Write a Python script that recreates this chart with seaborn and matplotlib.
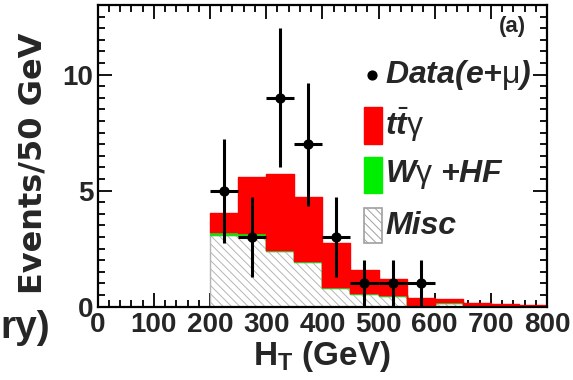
import numpy as np
import pandas as pd
import matplotlib
matplotlib.use("Agg")
import matplotlib.pyplot as plt
from matplotlib.patches import Rectangle
from matplotlib.ticker import MultipleLocator, FixedLocator
import seaborn as sns

# H_T binning (GeV) and stacked expectations per 50 GeV bin
bin_edges = [200, 250, 300, 350, 400, 450, 500, 550, 600, 650, 700, 750, 800]
misc = [3.10, 3.05, 2.38, 1.93, 0.79, 0.53, 0.46, 0.05, 0.17, 0.07, 0.05, 0.03]
wgamma_hf = [0.11, 0.12, 0.05, 0.05, 0.04, 0.04, 0.03, 0.02, 0.02, 0.01, 0.01, 0.01]
ttgamma = [0.82, 2.41, 3.29, 2.73, 1.91, 1.01, 0.71, 0.32, 0.13, 0.09, 0.07, 0.05]

# Observed events (e + mu) with statistical uncertainties
data_ht = [225, 275, 325, 375, 425, 475, 525, 575]
data_counts = [5, 3, 9, 7, 3, 1, 1, 1]
data_err = [2.24, 1.73, 3.0, 2.65, 1.73, 1.0, 1.0, 1.0]

x_ticks = [0, 100, 200, 300, 400, 500, 600, 700, 800]
y_ticks = [0, 5, 10]

sns.set_theme(style="ticks")
plt.rcParams["font.family"] = ["Liberation Sans", "DejaVu Sans"]
plt.rcParams["mathtext.fontset"] = "custom"
plt.rcParams["mathtext.rm"] = "Liberation Sans"
plt.rcParams["mathtext.it"] = "Liberation Sans:italic:bold"
plt.rcParams["mathtext.bf"] = "Liberation Sans:bold"
plt.rcParams["hatch.linewidth"] = 0.7

fig = plt.figure(figsize=(5.73, 3.80), dpi=100)
fig.patch.set_facecolor("white")
ax = fig.add_axes([0.1705, 0.1929, 0.7841, 0.7939])
ax.set_facecolor("white")

centers = [(a + b) / 2 for a, b in zip(bin_edges[:-1], bin_edges[1:])]
procs = ["ttg"] * len(centers) + ["wg"] * len(centers) + ["misc"] * len(centers)
hist_df = pd.DataFrame({
    "HT": centers * 3,
    "w": ttgamma + wgamma_hf + misc,
    "proc": procs,
})
colors = {"ttg": "#ff0000", "wg": "#00ee00", "misc": "#ffffff"}
sns.histplot(data=hist_df, x="HT", weights="w", hue="proc",
             hue_order=["ttg", "wg", "misc"], multiple="stack",
             bins=bin_edges, element="step", fill=True, alpha=1,
             palette=colors, linewidth=1.0, legend=False, ax=ax)

for coll in ax.collections:
    fc = coll.get_facecolor()
    if len(fc) and np.allclose(fc[0][:3], [1, 1, 1]):
        coll.set_hatch("\\" * 4)
        coll.set_edgecolor("#b5b5b5")
        coll.set_linewidth(1.0)
    elif len(fc) and fc[0][1] > 0.8:
        coll.set_edgecolor("#33cc33")
    else:
        coll.set_edgecolor("#ff0000")
for ln in ax.lines:
    ln.set_visible(False)

# data points with error bars
ax.errorbar(data_ht, data_counts, xerr=25, yerr=data_err, fmt="none",
            ecolor="black", elinewidth=2.2, capsize=0, zorder=5)
sns.scatterplot(x=data_ht, y=data_counts, color="black", s=55,
                edgecolor="black", linewidth=0, zorder=6, ax=ax)

ax.set_xlim(0, 800)
ax.set_ylim(0, 13.0)
ax.xaxis.set_major_locator(FixedLocator(x_ticks))
ax.xaxis.set_minor_locator(MultipleLocator(20))
ax.yaxis.set_major_locator(FixedLocator(y_ticks))
ax.yaxis.set_minor_locator(MultipleLocator(0.5))
ax.set_xticklabels([str(v) for v in x_ticks])
ax.set_yticklabels([str(v) for v in y_ticks])
ax.tick_params(which="both", direction="in", top=True, right=True,
               color="black", width=1.3)
ax.tick_params(which="major", length=10)
ax.tick_params(which="minor", length=5)
ax.tick_params(axis="x", which="major", pad=4)
ax.tick_params(axis="y", which="major", pad=3)
for lab in ax.get_xticklabels() + ax.get_yticklabels():
    lab.set_fontfamily(["Liberation Sans"])
    lab.set_fontweight("bold")
    lab.set_fontsize(20)
for sp in ax.spines.values():
    sp.set_linewidth(1.6)
    sp.set_color("black")
ax.set_xlabel("")
ax.set_ylabel("")

fig.text(322 / 573, 1 - 356 / 380, r"H$_\mathbf{T}$ (GeV)",
         ha="center", va="center", fontsize=24, fontweight="bold",
         family=["Liberation Sans"])
fig.text(33 / 573, 1 - 163 / 380, "Events/50 GeV", rotation=90,
         ha="center", va="center", fontsize=23, fontweight="bold",
         family=["DejaVu Sans"])
fig.text(50 / 573, 1 - 338 / 380, "ry)", ha="right", va="baseline",
         fontsize=28, fontweight="bold", family=["Liberation Sans"])

# legend
leg_kw = dict(transform=ax.transAxes, fontsize=23, fontweight="bold",
              fontstyle="italic", va="center", ha="left", zorder=8)
ax.scatter([0.610], [0.767], s=40, color="black", transform=ax.transAxes,
           zorder=8, clip_on=False)
ax.text(0.640, 0.767, r"Data(e+$\mathrm{\mu}$)", **leg_kw)
ax.add_patch(Rectangle((0.593, 0.539), 0.040, 0.123, transform=ax.transAxes,
                       facecolor="#ff0000", edgecolor="#ff0000", zorder=8))
ax.text(0.640, 0.601, r"$t\bar{t}\mathrm{\gamma}$", **leg_kw)
ax.add_patch(Rectangle((0.593, 0.376), 0.040, 0.120, transform=ax.transAxes,
                       facecolor="#00ee00", edgecolor="#00ee00", zorder=8))
ax.text(0.640, 0.437, r"W$\mathrm{\gamma}$ +HF", **leg_kw)
ax.add_patch(Rectangle((0.593, 0.211), 0.040, 0.116, transform=ax.transAxes,
                       facecolor="white", edgecolor="#a0a0a0", hatch="\\" * 4,
                       linewidth=1.2, zorder=8))
ax.text(0.640, 0.269, "Misc", **leg_kw)
ax.text(0.922, 0.930, "(a)", transform=ax.transAxes, fontsize=16,
        fontweight="bold", ha="center", va="center")

fig.savefig("out.png", dpi=100, facecolor="white")
